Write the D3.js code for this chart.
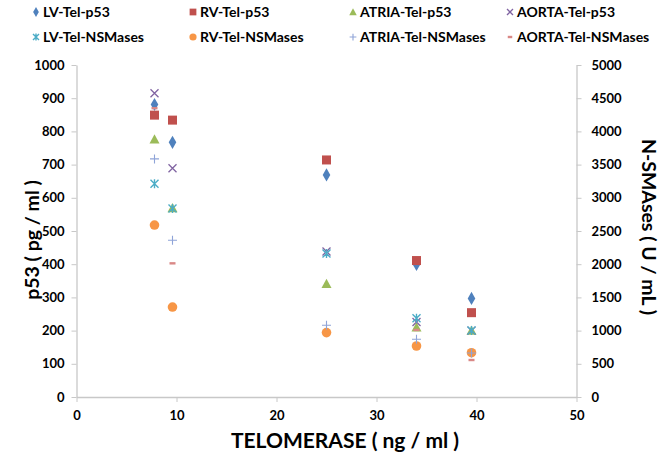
<!DOCTYPE html>
<html><head><meta charset="utf-8">
<script src="https://cdn.jsdelivr.net/npm/d3@7"></script>
<style>
body{margin:0;background:#fff;}
text{font-family:Lato,"Open Sans",sans-serif;font-weight:bold;}
</style></head>
<body><svg id="c" width="666" height="459"></svg>
<script>
// ---- data ----
const telomerase = [7.8, 9.6, 25, 34, 39.5];
const seriesNames = ["LV-Tel-p53","RV-Tel-p53","ATRIA-Tel-p53","AORTA-Tel-p53",
  "LV-Tel-NSMases","RV-Tel-NSMases","ATRIA-Tel-NSMases","AORTA-Tel-NSMases"];
// p53 (pg/ml) — left axis
const lvP53    = [881, 767, 669, 399, 297];
const rvP53    = [849, 834, 714, 411, 254];
const atriaP53 = [776, 569, 341, 210, 200];
const aortaP53 = [915, 689, 438, 226, 200];
// N-SMAses (U/mL) — right axis
const lvNSM    = [3212, 2840, 2160, 1185, 1000];
const rvNSM    = [2590, 1355, 970, 768, 667];
const atriaNSM = [3586, 2360, 1080, 869, 662];
const aortaNSM = [4350, 2013, null, 1010, 557];
const xTicks = [0,10,20,30,40,50];
const yLeftTicks = [0,100,200,300,400,500,600,700,800,900,1000];
const yRightTicks = [0,500,1000,1500,2000,2500,3000,3500,4000,4500,5000];

const seriesValues = [lvP53, rvP53, atriaP53, aortaP53, lvNSM, rvNSM, atriaNSM, aortaNSM];
const seriesAxis = ["L","L","L","L","R","R","R","R"];
const colors = ["#4F81BD","#C0504D","#9BBB59","#8064A2","#4BACC6","#F79646","#8FA4D8","#D98886"];
const shapes = ["diamond","square","triangle","times","star","circle","plus","dash"];

const svg = d3.select("#c");
const L = 76.5, R = 576.5, T = 65, B = 397;
const x = d3.scaleLinear().domain([0,50]).range([L,R]);
const yL = d3.scaleLinear().domain([0,1000]).range([B,T]);
const yR = d3.scaleLinear().domain([0,5000]).range([B,T]);
const axisColor = "#C8C8C8";
const fmt = d3.format("d");

function styleAxis(g){
  g.select(".domain").attr("stroke",axisColor).attr("stroke-width",1.3);
  g.selectAll(".tick line").attr("stroke",axisColor).attr("stroke-width",1);
  g.selectAll(".tick text").attr("fill","#000").style("font-size","13px").style("font-weight","bold");
}
svg.append("g").attr("transform",`translate(0,${B})`)
  .call(d3.axisBottom(x).tickValues(xTicks).tickFormat(fmt).tickSize(5).tickSizeOuter(0).tickPadding(9))
  .call(styleAxis);
svg.append("g").attr("transform",`translate(${L},0)`)
  .call(d3.axisLeft(yL).tickValues(yLeftTicks).tickFormat(fmt).tickSize(5).tickSizeOuter(0).tickPadding(7))
  .call(styleAxis);
svg.append("g").attr("transform",`translate(${R},0)`)
  .call(d3.axisRight(yR).tickValues(yRightTicks).tickFormat(fmt).tickSize(5).tickSizeOuter(0).tickPadding(10))
  .call(styleAxis);

// titles
svg.append("text").attr("x",345).attr("y",448).attr("text-anchor","middle")
  .style("font-size","21px").text("TELOMERASE ( ng / ml )");
svg.append("text").attr("transform",`translate(39,240) rotate(-90)`).attr("text-anchor","middle")
  .style("font-size","19.5px").text("p53 ( pg / ml )");
svg.append("text").attr("transform",`translate(642,227) rotate(90)`).attr("text-anchor","middle")
  .style("font-size","19.5px").text("N-SMAses ( U / mL )");

function drawMarker(g, shape, color, cx, cy, s){
  s = s || 1;
  if(shape==="diamond"){
    g.append("path").attr("d",d3.symbol(d3.symbolDiamond, 50*s*s)()).attr("transform",`translate(${cx},${cy})`).attr("fill",color);
  } else if(shape==="square"){
    const h=4.5*s; g.append("rect").attr("x",cx-h).attr("y",cy-h).attr("width",2*h).attr("height",2*h).attr("fill",color);
  } else if(shape==="triangle"){
    const h=5*s; g.append("path").attr("d",`M${cx},${cy-h}L${cx+h},${cy+h*0.85}L${cx-h},${cy+h*0.85}Z`).attr("fill",color);
  } else if(shape==="circle"){
    g.append("circle").attr("cx",cx).attr("cy",cy).attr("r",4.8*s).attr("fill",color);
  } else if(shape==="times"){
    const h=4*s; g.append("path").attr("d",`M${cx-h},${cy-h}L${cx+h},${cy+h}M${cx-h},${cy+h}L${cx+h},${cy-h}`).attr("stroke",color).attr("stroke-width",1.3).attr("fill","none");
  } else if(shape==="star"){
    const h=4*s; g.append("path").attr("d",`M${cx-h},${cy-h}L${cx+h},${cy+h}M${cx-h},${cy+h}L${cx+h},${cy-h}M${cx},${cy-h-0.5}L${cx},${cy+h+0.5}`).attr("stroke",color).attr("stroke-width",1.4).attr("fill","none");
  } else if(shape==="plus"){
    const h=4.5*s; g.append("path").attr("d",`M${cx-h},${cy}L${cx+h},${cy}M${cx},${cy-h}L${cx},${cy+h}`).attr("stroke",color).attr("stroke-width",1.1).attr("fill","none");
  } else if(shape==="dash"){
    g.append("rect").attr("x",cx-3*s).attr("y",cy-1.2).attr("width",6*s).attr("height",2.4).attr("fill",color);
  }
}

const plot = svg.append("g");
seriesValues.forEach((vals,i)=>{
  const y = seriesAxis[i]==="L" ? yL : yR;
  vals.forEach((v,j)=>{
    if(v==null) return;
    drawMarker(plot, shapes[i], colors[i], x(telomerase[j]), y(v));
  });
});

// legend
const legX = [36, 193, 353, 510];
const legY = [12, 37];
seriesNames.forEach((n,i)=>{
  const col = i%4, row = Math.floor(i/4);
  const g = svg.append("g");
  drawMarker(g, shapes[i], colors[i], legX[col], legY[row], 0.75);
  g.append("text").attr("x",legX[col]+7).attr("y",legY[row]+5).style("font-size","14px").text(n);
});
</script></body></html>
